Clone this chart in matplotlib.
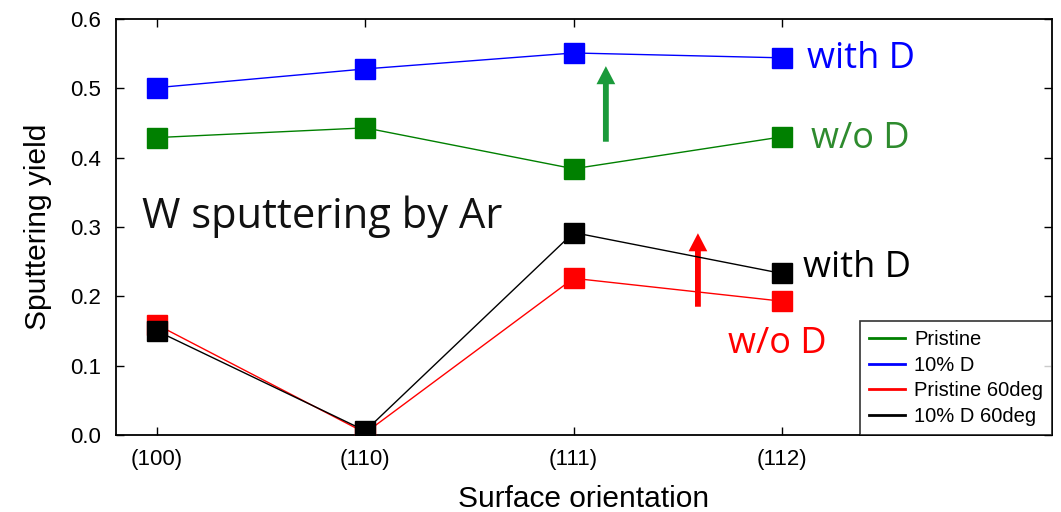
import matplotlib
matplotlib.use("Agg")
import matplotlib.pyplot as plt
from matplotlib import font_manager
from matplotlib.lines import Line2D

categories = ["(100)", "(110)", "(111)", "(112)"]
pristine = [0.429, 0.443, 0.384, 0.430]
d10 = [0.501, 0.528, 0.551, 0.544]
pristine60 = [0.159, 0.003, 0.226, 0.193]
d10_60 = [0.150, 0.006, 0.292, 0.233]
yticks = [0.0, 0.1, 0.2, 0.3, 0.4, 0.5, 0.6]

names = {f.name for f in font_manager.fontManager.ttflist}
base_font = "Liberation Sans" if "Liberation Sans" in names else "DejaVu Sans"
note_font = "Open Sans" if "Open Sans" in names else "DejaVu Sans"
plt.rcParams["font.family"] = [base_font, "DejaVu Sans"]

fig = plt.figure(figsize=(10.61, 5.12), dpi=100)
ax = fig.add_axes([116/1061, 1-435/512, (1052-116)/1061, (435-19)/512])

x = list(range(len(categories)))
ms = 14
lw = 1.0
ax.plot(x, pristine60, color="#ff0000", lw=lw, marker="s", ms=ms, mec="#ff0000", zorder=3)
ax.plot(x, d10_60, color="black", lw=lw, marker="s", ms=ms, zorder=4)
ax.plot(x, pristine, color="#008000", lw=lw, marker="s", ms=ms, zorder=3)
ax.plot(x, d10, color="#0000ff", lw=lw, marker="s", ms=ms, zorder=3)

ax.set_xlim(-0.197, 4.297)
ax.set_ylim(0, 0.6)
ax.set_xticks(x)
ax.set_xticklabels(categories)
ax.set_yticks(yticks)
ax.set_yticklabels([f"{v:.1f}" for v in yticks])
ax.tick_params(direction="in", length=6, width=1, top=True, right=True, labelsize=16)
ax.tick_params(axis="y", pad=11)
ax.tick_params(axis="x", pad=10)
for s in ax.spines.values():
    s.set_linewidth(1.3)

ax.set_xlabel("Surface orientation", fontsize=21.5, labelpad=11)
ax.set_ylabel("Sputtering yield", fontsize=21.5, labelpad=13)

handles = [Line2D([], [], color="#008000", lw=2),
           Line2D([], [], color="#0000ff", lw=2),
           Line2D([], [], color="#ff0000", lw=2),
           Line2D([], [], color="black", lw=2)]
leg = ax.legend(handles, ["Pristine", "10% D", "Pristine 60deg", "10% D 60deg"],
                loc="lower right", bbox_to_anchor=(1.0, 0.0), borderaxespad=0,
                fontsize=14.5, frameon=True, fancybox=False, edgecolor="black",
                handlelength=1.8, handletextpad=0.45, labelspacing=0.33,
                borderpad=0.45)
leg.get_frame().set_linewidth(1.2)

# annotations
ax.text(-0.07, 0.2986, "W sputtering by Ar", fontsize=30, family=note_font, color="#111111",
        va="baseline", ha="left")
ax.text(3.12, 0.529, "with D", fontsize=26, family=note_font, color="#0000ff", va="baseline", ha="left")
ax.text(3.14, 0.414, "w/o D", fontsize=26, family=note_font, color="#2e8b2e", va="baseline", ha="left")
ax.text(3.10, 0.228, "with D", fontsize=26, family=note_font, color="black", va="baseline", ha="left")
ax.text(2.74, 0.118, "w/o D", fontsize=26, family=note_font, color="#ff0000", va="baseline", ha="left")

arrow_style = "simple,head_width=1.35,head_length=1.3,tail_width=0.42"
ax.annotate("", xy=(2.155, 0.532), xytext=(2.155, 0.423),
            arrowprops=dict(arrowstyle=arrow_style, mutation_scale=10, lw=0,
                            color="#1a9a3a", shrinkA=0, shrinkB=0))
ax.annotate("", xy=(2.597, 0.291), xytext=(2.597, 0.185),
            arrowprops=dict(arrowstyle=arrow_style, mutation_scale=10, lw=0,
                            color="#ff0000", shrinkA=0, shrinkB=0))

fig.savefig("out.png", dpi=100)
